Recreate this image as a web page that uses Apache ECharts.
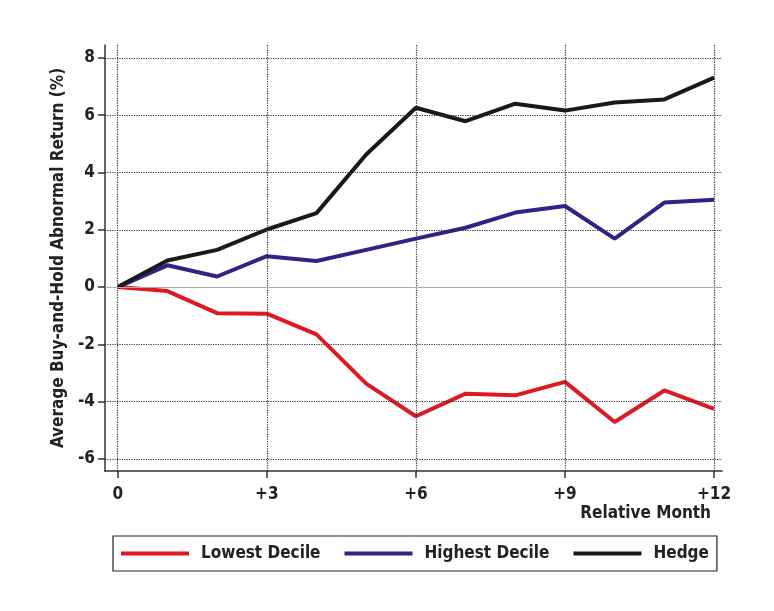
<!DOCTYPE html>
<html><head><meta charset="utf-8">
<script src="https://cdn.jsdelivr.net/npm/echarts@6/dist/echarts.min.js"></script>
<style>html,body{margin:0;padding:0;background:#fff}#c{width:774px;height:611px}</style>
</head><body><div id="c"></div>
<script>
const months = [0,1,2,3,4,5,6,7,8,9,10,11,12];
const lowest  = [0,-0.14,-0.91,-0.93,-1.65,-3.37,-4.51,-3.72,-3.78,-3.31,-4.71,-3.61,-4.25];
const highest = [0,0.76,0.37,1.08,0.91,1.30,1.69,2.07,2.60,2.83,1.69,2.95,3.05];
const hedge   = [0,0.93,1.30,2.01,2.58,4.63,6.26,5.79,6.40,6.16,6.44,6.55,7.31];
const xTicks = [0,3,6,9,12];
const yTicks = [-6,-4,-2,0,2,4,6,8];
const yGrid = [-6,-4,-2,2,4,6,8];
const seriesNames = ['Lowest Decile','Highest Decile','Hedge'];

const FONT = '"Liberation Sans Narrow","DejaVu Sans Condensed","Open Sans",sans-serif';
const pair = arr => months.map((m,i)=>[m,arr[i]]);
const colors = ['#dc1a22','#2d2486','#1c1818'];

const chart = echarts.init(document.getElementById('c'));
chart.setOption({
  animation:false,
  grid:{left:105,right:52,top:45,bottom:140},
  xAxis:{
    type:'value', min:-0.256, max:12.16,
    axisLine:{show:true,onZero:false,lineStyle:{color:'#333',width:1.5}},
    axisTick:{show:true,length:7,lineStyle:{color:'#333',width:1.5},customValues:xTicks},
    axisLabel:{customValues:xTicks,margin:15,color:'#222',fontFamily:FONT,fontWeight:'bold',fontSize:17,
      formatter:v=> v===0?'0':'+'+v},
    splitLine:{show:false}
  },
  yAxis:{
    type:'value', min:-6.42, max:8.45,
    name:'Average Buy-and-Hold Abnormal Return (%)', nameLocation:'middle', nameGap:33, nameRotate:90,
    nameTextStyle:{fontFamily:FONT,fontWeight:'bold',fontSize:17,color:'#222'},
    axisLine:{show:true,onZero:false,lineStyle:{color:'#333',width:1.5}},
    axisTick:{show:true,length:7,lineStyle:{color:'#333',width:1.5},customValues:yTicks},
    axisLabel:{customValues:yTicks,margin:10,color:'#222',fontFamily:FONT,fontWeight:'bold',fontSize:17},
    splitLine:{show:false}
  },
  legend:{
    data:seriesNames, left:113, top:536, orient:'horizontal',
    itemWidth:68, itemHeight:4, itemGap:24,
    padding:[9,8,9,8], borderColor:'#222', borderWidth:1.2,
    textStyle:{fontFamily:FONT,fontWeight:'bold',fontSize:17,color:'#222',padding:[0,0,0,7]},
    icon:'rect'
  },
  graphic:[{type:'text',right:63,top:505,style:{text:'Relative Month',font:'bold 17px '+FONT,fill:'#222'}}],
  series:[
    {type:'line',name:'__grid',data:[],silent:true,
      markLine:{silent:true,symbol:'none',label:{show:false},
        lineStyle:{color:'#333',type:'dotted',width:1.2},
        data:[...xTicks.map(v=>({xAxis:v})),...yGrid.map(v=>({yAxis:v})),
          {yAxis:0,lineStyle:{color:'#aaa',type:'solid',width:1}}]}},
    {type:'line',name:seriesNames[0],data:pair(lowest),symbol:'none',color:colors[0],lineStyle:{width:4,color:colors[0]}},
    {type:'line',name:seriesNames[1],data:pair(highest),symbol:'none',color:colors[1],lineStyle:{width:4,color:colors[1]}},
    {type:'line',name:seriesNames[2],data:pair(hedge),symbol:'none',color:colors[2],lineStyle:{width:4,color:colors[2]}}
  ]
});
</script></body></html>
